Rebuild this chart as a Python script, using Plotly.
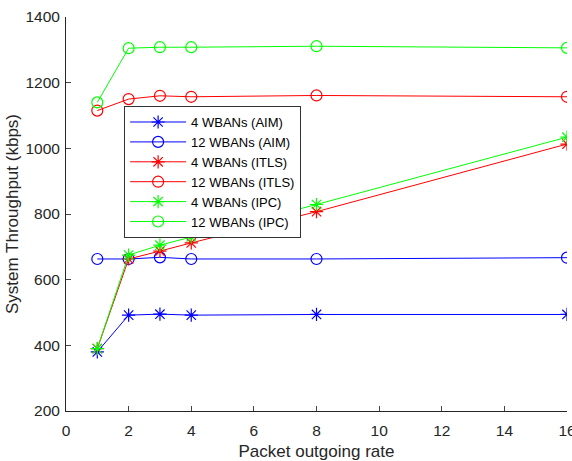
import plotly.graph_objects as go

# Packet outgoing rate (x) and system throughput in kbps for each scheme
rate = [1, 2, 3, 4, 8, 16]
aim_4 = [380, 492, 495, 492, 494, 494]
aim_12 = [663, 663, 668, 663, 663, 667]
itls_4 = [390, 663, 687, 712, 807, 1013]
itls_12 = [1115, 1150, 1160, 1157, 1161, 1157]
ipc_4 = [390, 675, 705, 730, 829, 1034]
ipc_12 = [1140, 1305, 1308, 1308, 1311, 1306]

x_ticks = [0, 2, 4, 6, 8, 10, 12, 14, 16]
y_ticks = [200, 400, 600, 800, 1000, 1200, 1400]

series = [
    ("4 WBANs (AIM)", aim_4, "#0000ff", "asterisk-open"),
    ("12 WBANs (AIM)", aim_12, "#0000ff", "circle-open"),
    ("4 WBANs (ITLS)", itls_4, "#ff0000", "asterisk-open"),
    ("12 WBANs (ITLS)", itls_12, "#ff0000", "circle-open"),
    ("4 WBANs (IPC)", ipc_4, "#00ff00", "asterisk-open"),
    ("12 WBANs (IPC)", ipc_12, "#00ff00", "circle-open"),
]

fig = go.Figure()
for name, vals, color, sym in series:
    fig.add_trace(go.Scatter(
        x=rate, y=vals, name=name, mode="lines+markers",
        line=dict(color=color, width=1),
        marker=dict(symbol=sym, size=11, color=color,
                    line=dict(color=color, width=1.2)),
    ))

base_font = "Liberation Sans, Arial, sans-serif"
fig.update_layout(
    width=572, height=461,
    margin=dict(l=66, r=5, t=17, b=50, autoexpand=False),
    paper_bgcolor="white", plot_bgcolor="white",
    font=dict(family=base_font, size=15, color="#262626"),
    showlegend=True,
    legend=dict(
        x=0.116, y=0.774, xanchor="left", yanchor="top",
        bgcolor="white", bordercolor="#333333", borderwidth=1,
        font=dict(family=base_font, size=13, color="#000000"),
        tracegroupgap=0, itemwidth=56,
    ),
)
fig.update_xaxes(
    range=[0, 16], tickvals=x_ticks, ticks="inside", ticklen=5,
    showline=True, linecolor="#262626", linewidth=1, showgrid=False, zeroline=False,
    automargin=False,
    title=dict(text="Packet outgoing rate", font=dict(size=17), standoff=7),
    tickfont=dict(size=15.5), ticklabelstandoff=5, ticklabeloverflow="allow",
)
fig.update_yaxes(
    range=[200, 1400], tickvals=y_ticks, ticks="inside", ticklen=5,
    showline=True, linecolor="#262626", linewidth=1, showgrid=False, zeroline=False,
    automargin=False,
    title=dict(text="System Throughput (kbps)", font=dict(size=17), standoff=2),
    tickfont=dict(size=15.5), ticklabelstandoff=2,
)

fig.write_html("out.html")
